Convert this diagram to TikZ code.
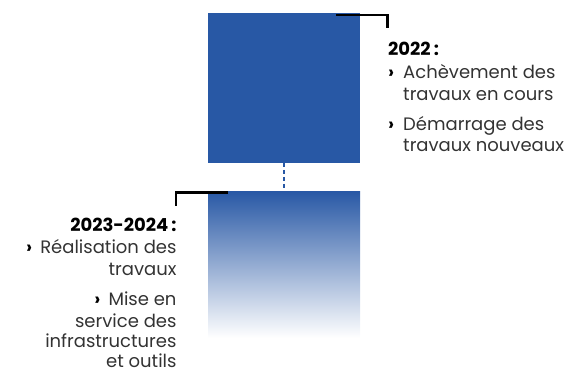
\documentclass[tikz,border=0pt]{standalone}
\usepackage{fontspec}
\setmainfont{Poppins}
\definecolor{mainblue}{HTML}{2858A5}
\definecolor{txtgray}{HTML}{333333}
\newcommand{\bul}{{\bfseries\color{black}›}}
\begin{document}
\begin{tikzpicture}[x=1pt,y=-1pt,
  bracket/.style={line width=2.6pt,black},
  yr/.style={font=\fontsize{18}{21}\selectfont\bfseries,text=black,inner sep=0pt},
  ln/.style={font=\fontsize{18}{21}\selectfont,text=txtgray,inner sep=0pt}]
\useasboundingbox (0,0) rectangle (567,373);
% top block
\fill[mainblue] (208.3,12.7) rectangle (360,162.7);
\node[inner sep=0pt,minimum width=151.7pt,minimum height=150pt] (top) at (284.15,87.7) {};
% bottom block
\shade[top color=mainblue,bottom color=white] (208.3,191) rectangle (360,338);
\node[inner sep=0pt,minimum width=151.7pt,minimum height=147pt] (bot) at (284.15,264.5) {};
% dashed connector
\draw[mainblue,line width=2pt,dash pattern=on 4pt off 3pt] (top.south) -- (bot.north);
% brackets
\coordinate (tb1) at (336,15);
\coordinate (tb2) at (387.5,15);
\coordinate (tb3) at (387.5,28);
\draw[bracket] (tb1) -- (tb2) -- (tb3);
\coordinate (bb1) at (228,192.3);
\coordinate (bb2) at (176,192.3);
\coordinate (bb3) at (176,205.5);
\draw[bracket] (bb1) -- (bb2) -- (bb3);
% right text
\node[yr,anchor=base west] (y22) at (388,55) {2022\,:};
\node[ln,anchor=base west] (b1) at (388,78.3) {\bul};
\node[ln,anchor=base west] (r1) at (403,78.3) {Achèvement des};
\node[ln,anchor=base west] (r2) at (403,100) {travaux en cours};
\node[ln,anchor=base west] (b2) at (388,130) {\bul};
\node[ln,anchor=base west] (r3) at (403,130) {Démarrage des};
\node[ln,anchor=base west] (r4) at (403,151.7) {travaux nouveaux};
% left text
\node[yr,anchor=base east] (y23) at (176.7,231.7) {2023-2024\,:};
\node[ln,anchor=base east] (l1) at (176.7,253.3) {\bul\hspace{0.45em}Réalisation des};
\node[ln,anchor=base east] (l2) at (176.7,275) {travaux};
\node[ln,anchor=base east] (l3) at (176.7,305) {\bul\hspace{0.45em}Mise en};
\node[ln,anchor=base east] (l4) at (176.7,327) {service des};
\node[ln,anchor=base east] (l5) at (176.7,347.5) {infrastructures};
\node[ln,anchor=base east] (l6) at (176.7,367) {et outils};
\end{tikzpicture}
\end{document}
